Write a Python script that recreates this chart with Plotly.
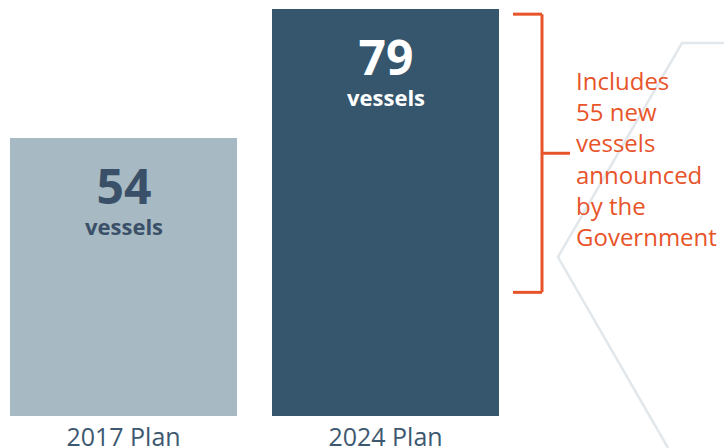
import plotly.graph_objects as go

# ---- data ----
plans = ["2017 Plan", "2024 Plan"]
vessels = [54, 79]
new_vessels = 55
unit_label = "vessels"
note_lines = ["Includes", "55 new", "vessels", "announced", "by the", "Government"]

# ---- style ----
bar_colors = ["#A7B9C2", "#36566D"]
number_colors = ["#3A5068", "#FFFFFF"]
orange = "#E8542A"
tick_color = "#3D5870"
deco_color = "#E1E7EB"
FONT = "Open Sans"

W, H = 724, 448
PLOT_BOTTOM = 416          # pixel row of the axis baseline
X_PX_PER_UNIT = 262.0
X_CENTER0 = 123.5
x_range = [-X_CENTER0 / X_PX_PER_UNIT, (W - X_CENTER0) / X_PX_PER_UNIT]
y_range = [0, 80.75]
bar_width = 227 / X_PX_PER_UNIT

xs = list(range(len(plans)))

fig = go.Figure()
fig.add_trace(go.Bar(
    x=xs, y=vessels, width=bar_width,
    marker=dict(color=bar_colors, line=dict(width=0)),
    hoverinfo="skip", showlegend=False,
))

annotations = []
for x, v, c in zip(xs, vessels, number_colors):
    annotations.append(dict(
        x=x, y=v, xref="x", yref="y",
        text=(f"<span style='font-size:48px'><b>{v}</b></span><br>"
              f"<span style='font-size:22px'><b>{unit_label}</b></span>"),
        showarrow=False, yanchor="top", yshift=-13,
        font=dict(family=FONT, size=24, color=c)))

# bracket around the new vessels of the latest plan
total = vessels[-1]
b_bottom = total - new_vessels
b_top = total - 1
b_mid = (b_bottom + b_top) / 2
bar_right = xs[-1] + bar_width / 2
bx0 = bar_right + 14 / X_PX_PER_UNIT
bx1 = bar_right + 43 / X_PX_PER_UNIT
bx2 = bar_right + 71 / X_PX_PER_UNIT
line = dict(color=orange, width=3)
shapes = [
    dict(type="line", xref="x", yref="y", x0=bx0, x1=bx1, y0=b_top, y1=b_top, line=line),
    dict(type="line", xref="x", yref="y", x0=bx1, x1=bx1, y0=b_bottom, y1=b_top, line=line),
    dict(type="line", xref="x", yref="y", x0=bx0, x1=bx1, y0=b_bottom, y1=b_bottom, line=line),
    dict(type="line", xref="x", yref="y", x0=bx1, x1=bx2, y0=b_mid, y1=b_mid, line=line),
]

annotations.append(dict(
    x=bar_right + 75 / X_PX_PER_UNIT, y=b_mid, xref="x", yref="y",
    text="<br>".join(note_lines), showarrow=False, xanchor="left", yanchor="middle",
    align="left", yshift=-5, font=dict(family=FONT, size=24, color=orange)))

# decorative background outline
def pp(px, py):
    return px / W, (PLOT_BOTTOM - py) / PLOT_BOTTOM

pts = [pp(724, 43), pp(682, 43), pp(558, 257), pp(668, 448)]
path = "M " + " L ".join(f"{a:.4f},{b:.4f}" for a, b in pts)
shapes.insert(0, dict(type="path", xref="paper", yref="paper", path=path,
                      line=dict(color=deco_color, width=2.5), layer="below"))

fig.update_layout(
    width=W, height=H,
    margin=dict(l=0, r=0, t=0, b=H - PLOT_BOTTOM),
    paper_bgcolor="white", plot_bgcolor="white",
    xaxis=dict(range=x_range, tickvals=xs, ticktext=plans, showgrid=False,
               zeroline=False, showline=False, ticks="", fixedrange=True,
               automargin=False, ticklabelstandoff=4,
               tickfont=dict(family=FONT, size=25, color=tick_color)),
    yaxis=dict(range=y_range, visible=False, fixedrange=True),
    shapes=shapes, annotations=annotations,
    bargap=0,
)

fig.write_html("out.html")
